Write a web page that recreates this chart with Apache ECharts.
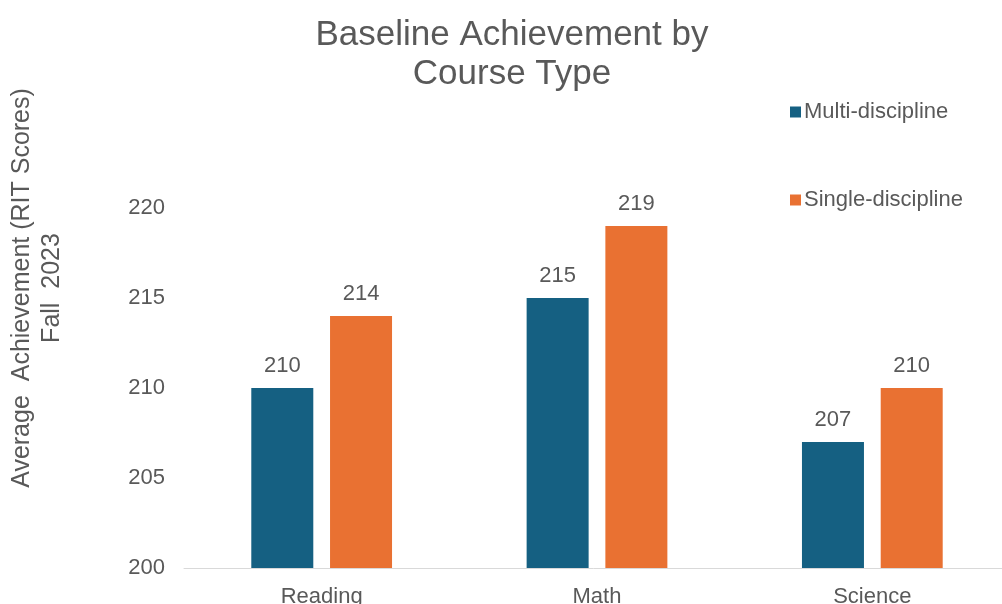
<!DOCTYPE html>
<html>
<head>
<meta charset="utf-8">
<script src="https://cdn.jsdelivr.net/npm/echarts@6/dist/echarts.min.js"></script>
<style>
html,body{margin:0;padding:0;background:#fff;}
#chart{width:1002px;height:604px;}
</style>
</head>
<body>
<div id="chart"></div>
<script>
const categories = ['Reading', 'Math', 'Science'];
const multiDiscipline = [210, 215, 207];
const singleDiscipline = [214, 219, 210];
const seriesNames = ['Multi-discipline', 'Single-discipline'];
const yTicks = { min: 200, max: 220, interval: 5 };
const titleText = 'Baseline Achievement by\nCourse Type';
const yTitle = 'Average  Achievement (RIT Scores)\nFall  2023';

const FONT = '"Liberation Sans", Arial, sans-serif';
const TXT = '#595959';
const chart = echarts.init(document.getElementById('chart'));
chart.setOption({
  backgroundColor: '#ffffff',
  animation: false,
  title: {
    text: titleText,
    left: 507,
    textAlign: 'center',
    top: 11,
    textStyle: { fontFamily: FONT, fontSize: 35, fontWeight: 'normal', color: TXT, lineHeight: 39 }
  },
  legend: [
    {
      data: [seriesNames[0]], left: 785, top: 96, orient: 'vertical',
      itemWidth: 11, itemHeight: 11, itemGap: 6,
      icon: 'rect',
      textStyle: { fontFamily: FONT, fontSize: 22, color: TXT, padding: [0, 0, 0, -2] }
    },
    {
      data: [seriesNames[1]], left: 785, top: 184, orient: 'vertical',
      itemWidth: 11, itemHeight: 11, itemGap: 6,
      icon: 'rect',
      textStyle: { fontFamily: FONT, fontSize: 22, color: TXT, padding: [0, 0, 0, -2] }
    }
  ],
  grid: { left: 184, width: 826, top: 208, bottom: 36, containLabel: false, outerBoundsMode: 'none' },
  xAxis: {
    type: 'category',
    data: categories,
    axisLine: { show: true, lineStyle: { color: '#d9d9d9', width: 1 } },
    axisTick: { show: false },
    axisLabel: { fontFamily: FONT, fontSize: 22, color: TXT, margin: 18 }
  },
  yAxis: {
    type: 'value',
    min: yTicks.min, max: yTicks.max, interval: yTicks.interval,
    axisLine: { show: false },
    axisTick: { show: false },
    splitLine: { show: false },
    axisLabel: { fontFamily: FONT, fontSize: 22, color: TXT, margin: 19 }
  },
  graphic: [{
    type: 'text',
    x: 37, y: 288,
    rotation: Math.PI / 2,
    style: {
      text: yTitle,
      fontFamily: FONT, fontSize: 25, fill: TXT,
      align: 'center', verticalAlign: 'middle', lineHeight: 30
    }
  }],
  series: [
    {
      name: seriesNames[0], type: 'bar', data: multiDiscipline,
      barWidth: 62, barGap: '27%',
      itemStyle: { color: '#156082' },
      label: { show: true, position: 'top', distance: 11, fontFamily: FONT, fontSize: 22, color: TXT }
    },
    {
      name: seriesNames[1], type: 'bar', data: singleDiscipline,
      barWidth: 62, barGap: '27%',
      itemStyle: { color: '#E97132' },
      label: { show: true, position: 'top', distance: 11, fontFamily: FONT, fontSize: 22, color: TXT }
    }
  ]
});
</script>
</body>
</html>
